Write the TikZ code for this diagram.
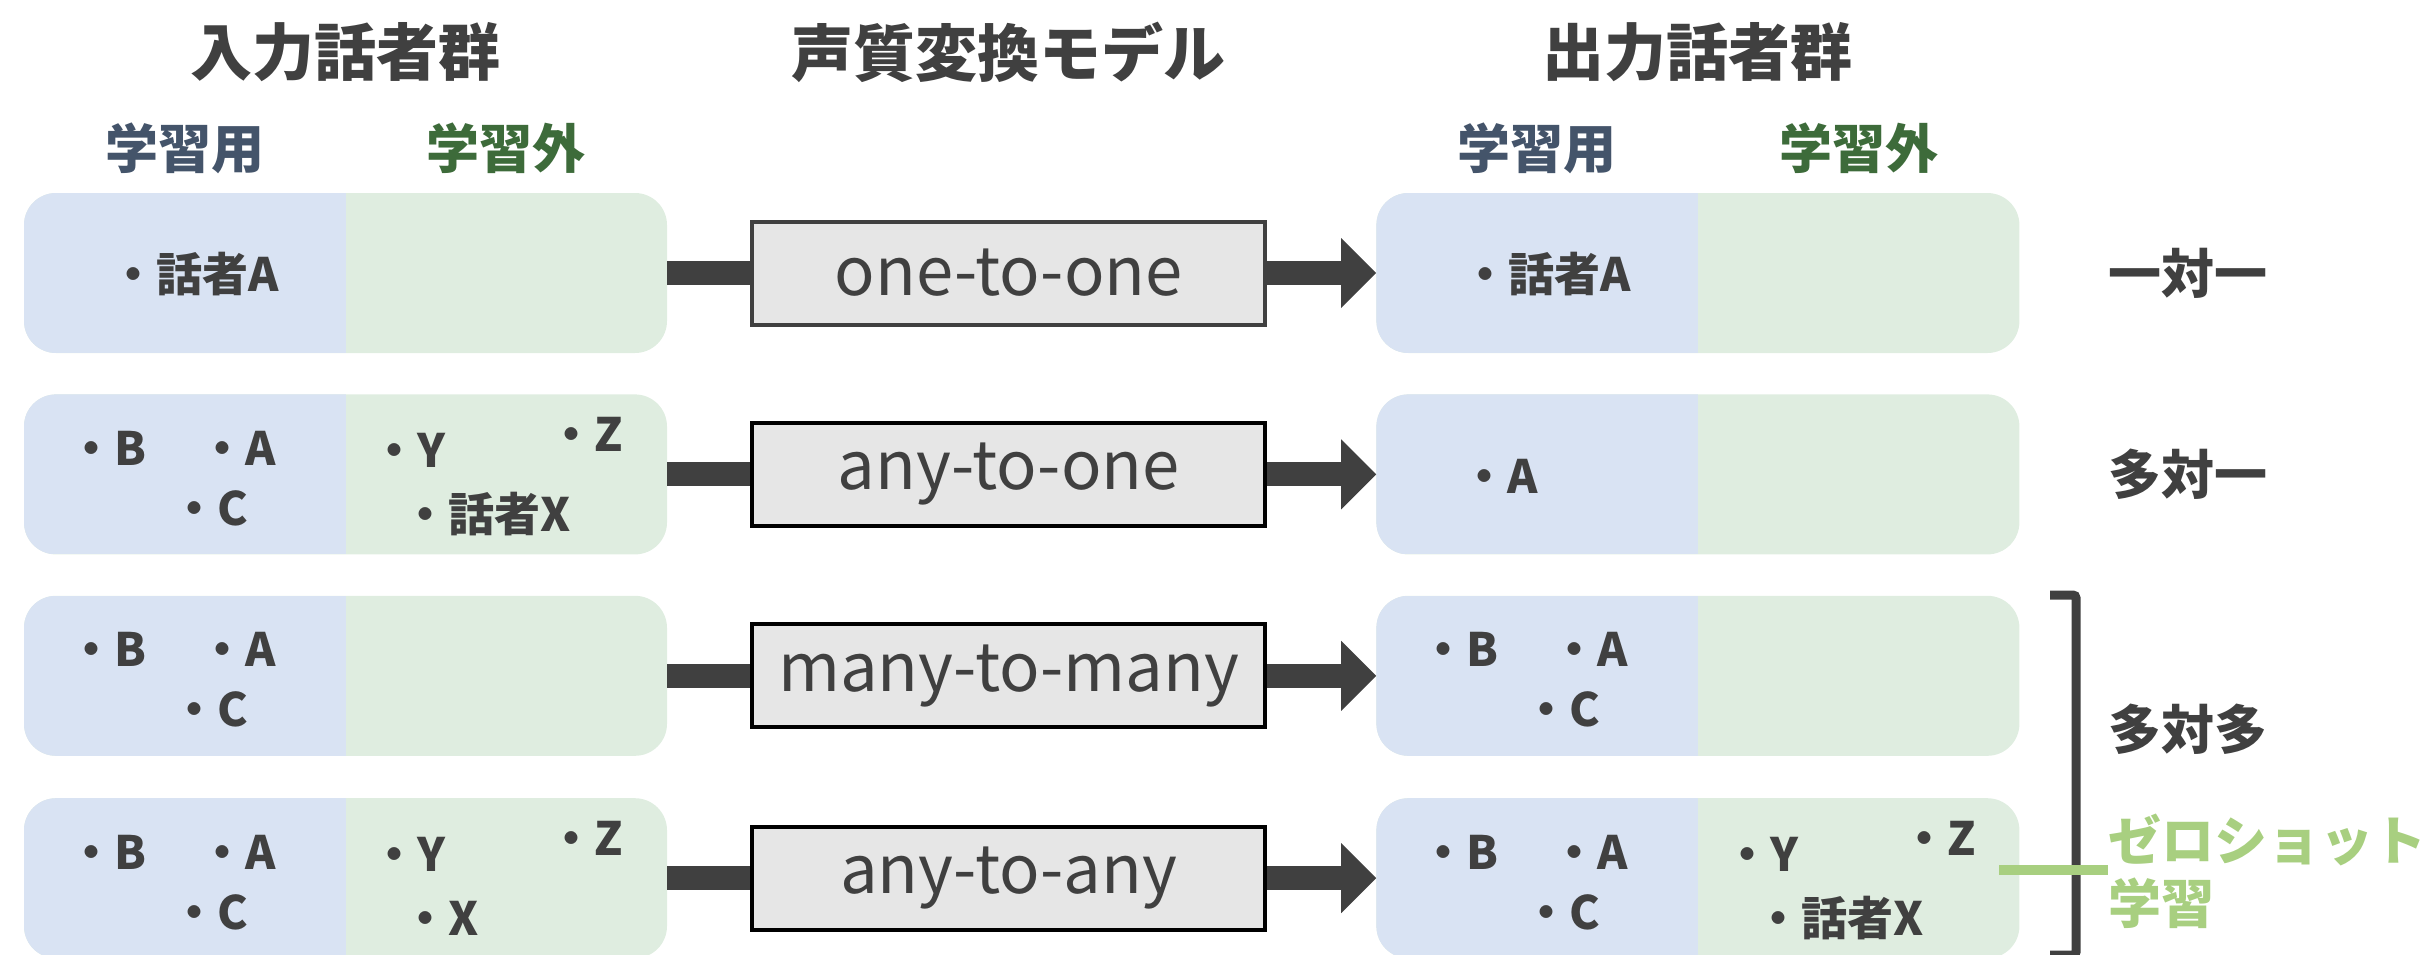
\documentclass[tikz,border=0pt]{standalone}
\usepackage{fontspec}
\setmainfont{Noto Sans CJK JP}
\usepackage{xcolor}
\usetikzlibrary{positioning,arrows.meta}

\definecolor{textgray}{HTML}{404040}
\definecolor{learnblue}{HTML}{D9E3F3}
\definecolor{unseengreen}{HTML}{DFEDE0}
\definecolor{bluehead}{HTML}{44546A}
\definecolor{greenhead}{HTML}{3D6B3A}
\definecolor{modelgray}{HTML}{E6E6E6}
\definecolor{zsgreen}{HTML}{A8CF80}

\begin{document}
\begin{tikzpicture}[x=1pt,y=-1pt,
    spk box/.style={rounded corners=32pt, fill=unseengreen, minimum width=643pt, minimum height=160pt, inner sep=0pt,
        path picture={\fill[learnblue, sharp corners] (path picture bounding box.south west) rectangle (path picture bounding box.north);}},
    model box/.style={draw=black, line width=4pt, fill=modelgray, minimum width=513pt, minimum height=103pt, inner sep=0pt, text=textgray, font=\fontsize{67}{72}\selectfont},
    item/.style={anchor=west, inner sep=0pt, text=textgray, font=\fontsize{46}{50}\selectfont\bfseries},
    title/.style={inner sep=0pt, text=textgray, font=\fontsize{62}{70}\selectfont\bfseries},
    sub head/.style={inner sep=0pt, font=\fontsize{53}{60}\selectfont\bfseries},
    kind/.style={anchor=west, inner sep=0pt, text=textgray, font=\fontsize{53}{63}\selectfont\bfseries},
    bar/.style={draw=textgray, line width=24pt}]

    \useasboundingbox (0,0) rectangle (2429,954);

    \node[spk box] (in1) at (345.5,273) {};
    \node[spk box] (in2) [below=41pt of in1] {};
    \node[spk box] (in3) [below=41pt of in2] {};
    \node[spk box] (in4) [below=42pt of in3] {};

    \node[model box, draw=textgray] (m1) [right=83pt of in1] {one-to-one};
    \node[model box] (m2) [right=83pt of in2] {any-to-one};
    \node[model box] (m3) [right=83pt of in3] {many-to-many};
    \node[model box] (m4) [right=83pt of in4] {any-to-any};

    \node[spk box] (out1) [right=109pt of m1] {};
    \node[spk box] (out2) [right=109pt of m2] {};
    \node[spk box] (out3) [right=109pt of m3] {};
    \node[spk box] (out4) [right=109pt of m4] {};

    % headings
    \node[title] (tin) at ([yshift=221pt]in1.center) {入力話者群};
    \node[title] (tm) at ([yshift=221pt]m1.center) {声質変換モデル};
    \node[title] (tout) at ([yshift=221pt]out1.center) {出力話者群};
    \node[sub head, text=bluehead] (hin1) at ([xshift=-160.75pt,yshift=125pt]in1.center) {学習用};
    \node[sub head, text=greenhead] (hin2) at ([xshift=160.75pt,yshift=125pt]in1.center) {学習外};
    \node[sub head, text=bluehead] (hout1) at ([xshift=-160.75pt,yshift=125pt]out1.center) {学習用};
    \node[sub head, text=greenhead] (hout2) at ([xshift=160.75pt,yshift=125pt]out1.center) {学習外};

    % speakers
    \node[item] (in1a) at ([xshift=86pt,yshift=-1pt]in1.west) {・話者A};

    \node[item] (in2b) at ([xshift=44pt,yshift=26pt]in2.west) {・B};
    \node[item] (in2a) at ([xshift=175pt,yshift=26pt]in2.west) {・A};
    \node[item] (in2c) at ([xshift=147pt,yshift=-34pt]in2.west) {・C};
    \node[item] (in2y) at ([xshift=26pt,yshift=24pt]in2.center) {・Y};
    \node[item] (in2z) at ([xshift=203pt,yshift=40pt]in2.center) {・Z};
    \node[item] (in2x) at ([xshift=57pt,yshift=-40pt]in2.center) {・話者X};

    \node[item] (in3b) at ([xshift=44pt,yshift=26pt]in3.west) {・B};
    \node[item] (in3a) at ([xshift=175pt,yshift=26pt]in3.west) {・A};
    \node[item] (in3c) at ([xshift=147pt,yshift=-34pt]in3.west) {・C};

    \node[item] (in4b) at ([xshift=44pt,yshift=26pt]in4.west) {・B};
    \node[item] (in4a) at ([xshift=175pt,yshift=26pt]in4.west) {・A};
    \node[item] (in4c) at ([xshift=147pt,yshift=-34pt]in4.west) {・C};
    \node[item] (in4y) at ([xshift=26pt,yshift=24pt]in4.center) {・Y};
    \node[item] (in4z) at ([xshift=203pt,yshift=40pt]in4.center) {・Z};
    \node[item] (in4x) at ([xshift=57pt,yshift=-40pt]in4.center) {・X};

    \node[item] (out1a) at ([xshift=86pt,yshift=-1pt]out1.west) {・話者A};
    \node[item] (out2a) at ([xshift=85pt,yshift=-2pt]out2.west) {・A};

    \node[item] (out3b) at ([xshift=44pt,yshift=26pt]out3.west) {・B};
    \node[item] (out3a) at ([xshift=175pt,yshift=26pt]out3.west) {・A};
    \node[item] (out3c) at ([xshift=147pt,yshift=-34pt]out3.west) {・C};

    \node[item] (out4b) at ([xshift=44pt,yshift=26pt]out4.west) {・B};
    \node[item] (out4a) at ([xshift=175pt,yshift=26pt]out4.west) {・A};
    \node[item] (out4c) at ([xshift=147pt,yshift=-34pt]out4.west) {・C};
    \node[item] (out4y) at ([xshift=26pt,yshift=24pt]out4.center) {・Y};
    \node[item] (out4z) at ([xshift=203pt,yshift=40pt]out4.center) {・Z};
    \node[item] (out4x) at ([xshift=57pt,yshift=-40pt]out4.center) {・話者X};

    % connectors
    \draw[bar] (in1) -- (m1);
    \draw[bar] (in2) -- (m2);
    \draw[bar] (in3) -- (m3);
    \draw[bar] (in4) -- (m4);
    \draw[bar, -{Triangle[length=35pt,width=70pt,line width=0pt]}] (m1) -- (out1);
    \draw[bar, -{Triangle[length=35pt,width=70pt,line width=0pt]}] (m2) -- (out2);
    \draw[bar, -{Triangle[length=35pt,width=70pt,line width=0pt]}] (m3) -- (out3);
    \draw[bar, -{Triangle[length=35pt,width=70pt,line width=0pt]}] (m4) -- (out4);

    % kinds
    \node[kind] (k1) [right=89pt of out1] {一対一};
    \node[kind] (k2) [right=89pt of out2] {多対一};
    \node[kind] (k3) at (2108,729) {多対多};
    \node[kind, text=zsgreen, align=left] (zs) at (2108,871) {ゼロショット\\学習};

    \coordinate (brtop) at (2050,595);
    \coordinate (brbot) at (2050,955);
    \draw[textgray, line width=9pt, rounded corners=3pt] (brtop) -- ++(26,0) |- (brbot);

    \coordinate (zsend) at (1999,870);
    \draw[zsgreen, line width=10pt] (zsend) -- (zsend -| zs.west);

\end{tikzpicture}
\end{document}
